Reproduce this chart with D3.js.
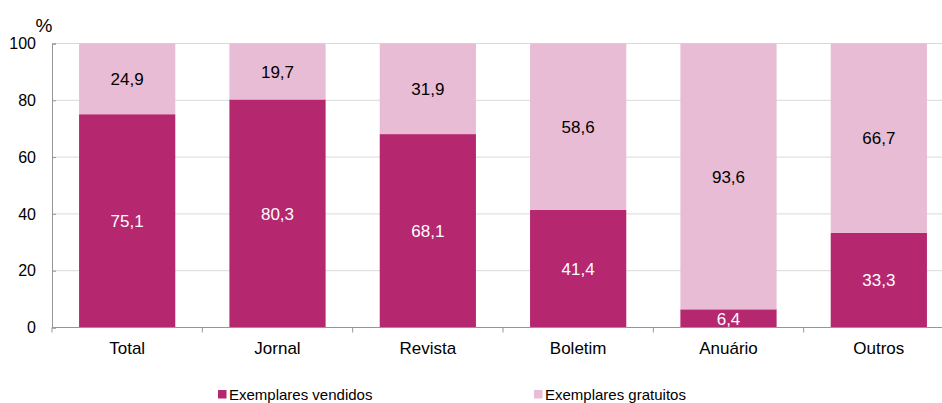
<!DOCTYPE html>
<html>
<head>
<meta charset="utf-8">
<script src="https://cdn.jsdelivr.net/npm/d3@7"></script>
<style>
  body { margin: 0; background: #fff; }
  text { font-family: "Liberation Sans", Arial, sans-serif; }
</style>
</head>
<body>
<div id="chart"></div>
<script>
// data
var categories = ["Total", "Jornal", "Revista", "Boletim", "Anuário", "Outros"];
var vendidos = [75.1, 80.3, 68.1, 41.4, 6.4, 33.3];
var gratuitos = [24.9, 19.7, 31.9, 58.6, 93.6, 66.7];
var seriesNames = ["Exemplares vendidos", "Exemplares gratuitos"];
var yTicks = [0, 20, 40, 60, 80, 100];

var svgWidth = 942;
var svgHeight = 403;
var colors = ["#b5276f", "#e8bcd4"];

var svg = d3.select("#chart")
  .append("svg")
  .attr("width", svgWidth)
  .attr("height", svgHeight);

// plot runs past the right edge, like the original
var x = d3.scaleBand()
  .domain(categories)
  .range([52, 954])
  .paddingInner(0.36)
  .paddingOuter(0.18);

var y = d3.scaleLinear()
  .domain([0, 100])
  .range([327.5, 43.5]);

// gridlines
svg.append("g")
  .selectAll("line")
  .data(yTicks.filter(function(d) { return d > 0; }))
  .enter()
  .append("line")
  .attr("x1", 52)
  .attr("x2", 954)
  .attr("y1", function(d) { return y(d); })
  .attr("y2", function(d) { return y(d); })
  .attr("stroke", "#d9d9d9")
  .attr("stroke-width", 1);

// stacked bars
var rows = categories.map(function(c, i) {
  return { cat: c, v: vendidos[i], g: gratuitos[i] };
});

var groups = svg.append("g").selectAll("g")
  .data(rows)
  .enter()
  .append("g");

groups.append("rect")
  .attr("x", function(d) { return x(d.cat); })
  .attr("width", x.bandwidth())
  .attr("y", function(d) { return y(d.v); })
  .attr("height", function(d) { return y(0) - y(d.v); })
  .attr("fill", colors[0]);

groups.append("rect")
  .attr("x", function(d) { return x(d.cat); })
  .attr("width", x.bandwidth())
  .attr("y", function(d) { return y(d.v + d.g); })
  .attr("height", function(d) { return y(d.v) - y(d.v + d.g); })
  .attr("fill", colors[1]);

var fmt = function(v) { return v.toFixed(1).replace(".", ","); };

groups.append("text")
  .attr("x", function(d) { return x(d.cat) + x.bandwidth() / 2; })
  .attr("y", function(d) { return y(d.v / 2); })
  .attr("dy", "0.36em")
  .attr("text-anchor", "middle")
  .attr("font-size", 17)
  .attr("fill", "#fff")
  .text(function(d) { return fmt(d.v); });

groups.append("text")
  .attr("x", function(d) { return x(d.cat) + x.bandwidth() / 2; })
  .attr("y", function(d) { return y(d.v + d.g / 2); })
  .attr("dy", "0.36em")
  .attr("text-anchor", "middle")
  .attr("font-size", 17)
  .attr("fill", "#000")
  .text(function(d) { return fmt(d.g); });

// y axis
var yAxis = d3.axisLeft(y).tickValues(yTicks).tickSize(-4).tickPadding(16);
var gy = svg.append("g")
  .attr("transform", "translate(52,0)")
  .call(yAxis);
gy.select(".domain").attr("stroke", "#969696");
gy.selectAll(".tick line").attr("stroke", "#969696");
gy.selectAll("text").attr("font-size", 16).attr("fill", "#000")
  .attr("font-family", "Liberation Sans, Arial, sans-serif");

svg.append("text")
  .attr("x", 44)
  .attr("y", 32)
  .attr("text-anchor", "middle")
  .attr("font-size", 19)
  .text("%");

// x axis: line plus ticks at category boundaries
svg.append("line")
  .attr("x1", 52).attr("x2", 954)
  .attr("y1", y(0)).attr("y2", y(0))
  .attr("stroke", "#969696");

var step = x.step();
var bounds = d3.range(categories.length + 1).map(function(i) {
  return x(categories[0]) - x.paddingOuter() * step + i * step;
});
svg.append("g").selectAll("line")
  .data(bounds)
  .enter()
  .append("line")
  .attr("x1", function(d) { return d; })
  .attr("x2", function(d) { return d; })
  .attr("y1", y(0))
  .attr("y2", y(0) + 5)
  .attr("stroke", "#969696");

svg.append("g").selectAll("text")
  .data(categories)
  .enter()
  .append("text")
  .attr("x", function(d) { return x(d) + x.bandwidth() / 2; })
  .attr("y", 354)
  .attr("text-anchor", "middle")
  .attr("font-size", 17)
  .text(function(d) { return d; });

// legend
var legendX = [218, 534];
var legend = svg.append("g").selectAll("g")
  .data(seriesNames)
  .enter()
  .append("g")
  .attr("transform", function(d, i) { return "translate(" + legendX[i] + ",390)"; });

legend.append("rect")
  .attr("width", 8.5)
  .attr("height", 8.5)
  .attr("fill", function(d, i) { return colors[i]; });

legend.append("text")
  .attr("x", 11)
  .attr("y", 9.5)
  .attr("font-size", 15)
  .text(function(d) { return d; });
</script>
</body>
</html>
